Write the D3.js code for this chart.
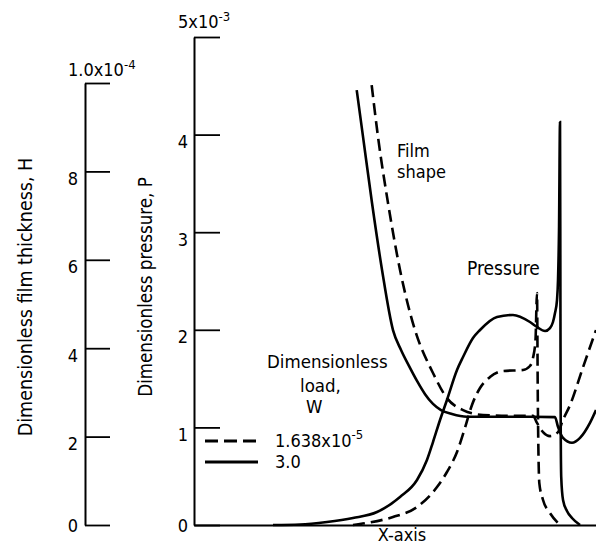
<!DOCTYPE html>
<html>
<head>
<meta charset="utf-8">
<script src="https://cdn.jsdelivr.net/npm/d3@7"></script>
<style>
  body { margin: 0; background: #fff; }
  svg text { font-family: 'DejaVu Sans Condensed', 'Liberation Sans Narrow', sans-serif; fill: #000; }
</style>
</head>
<body>
<div id="graf"></div>
<script>
// -- Datos (x en unidades arbitrarias del eje X; H en 1e-5, P en 1e-3)
loads = ['1.638x10', '3.0']
loadExp = ['-5', '']
hTicks = [0, 2, 4, 6, 8, 10]
pTicks = [0, 1, 2, 3, 4, 5]

// película, carga 1.638e-5 (discontinua)
filmW1 = [[1.768, 9.95], [1.831, 8.78], [1.930, 7.29], [2.050, 5.77], [2.199, 4.41], [2.378, 3.44],
          [2.517, 2.87], [2.677, 2.60], [2.876, 2.49], [3.144, 2.47], [3.373, 2.47], [3.413, 2.31],
          [3.473, 2.10], [3.542, 2.01], [3.622, 2.10], [3.672, 2.38], [3.741, 2.71], [3.871, 3.57], [4.0, 4.41]]
// película, carga 3.0 (continua)
filmW2 = [[1.619, 9.84], [1.682, 8.78], [1.771, 7.29], [1.871, 5.77], [1.980, 4.41], [2.060, 3.96],
          [2.139, 3.60], [2.219, 3.26], [2.299, 2.96], [2.378, 2.74], [2.458, 2.60], [2.567, 2.51],
          [2.716, 2.45], [3.045, 2.45], [3.343, 2.45], [3.592, 2.44], [3.622, 2.22], [3.672, 1.97],
          [3.761, 1.86], [3.841, 1.97], [3.940, 2.31], [4.0, 2.60]]
// presión, carga 1.638e-5 (discontinua)
pressW1 = [[1.582, 0], [1.751, 0.026], [1.980, 0.082], [2.219, 0.184], [2.418, 0.389], [2.517, 0.543],
           [2.617, 0.748], [2.696, 0.994], [2.766, 1.230], [2.846, 1.404], [2.945, 1.516], [3.075, 1.578],
           [3.274, 1.588], [3.343, 1.629], [3.373, 1.711], [3.398, 1.895], [3.413, 2.377], [3.421, 1.281],
           [3.436, 0.430], [3.473, 0.256], [3.542, 0.123], [3.642, 0]]
// presión, carga 3.0 (continua)
pressW2 = [[0.786, 0], [1.055, 0.005], [1.323, 0.031], [1.582, 0.072], [1.821, 0.133], [2.050, 0.287],
           [2.219, 0.461], [2.318, 0.666], [2.378, 0.850], [2.448, 1.076], [2.517, 1.281], [2.617, 1.588],
           [2.677, 1.721], [2.776, 1.916], [2.846, 1.998], [3.015, 2.131], [3.174, 2.152], [3.343, 2.080],
           [3.413, 2.029], [3.493, 1.988], [3.542, 2.018], [3.572, 2.080], [3.592, 2.172], [3.612, 2.305],
           [3.622, 2.510], [3.632, 3.023], [3.642, 4.129], [3.646, 2.305], [3.649, 0.973], [3.654, 0.492],
           [3.672, 0.256], [3.711, 0.143], [3.761, 0.072], [3.841, 0]]

// -- Canvas
ancho_total = 596
alto_total = 547
svg = d3.select('#graf').append('svg')
        .attr('width', ancho_total)
        .attr('height', alto_total)

// -- Escaladores
x = d3.scaleLinear().domain([0, 4]).range([194, 596])
yP = d3.scaleLinear().domain([0, 5]).range([525, 37])
yH = d3.scaleLinear().domain([0, 10]).range([525, 83])

// -- Eje de espesor de película
hAxis = d3.axisLeft(yH)
          .tickValues(hTicks)
          .tickSizeInner(-25)
          .tickSizeOuter(0)
          .tickPadding(7)
          .tickFormat(d => d === 10 ? '' : d)
gH = svg.append('g')
        .attr('transform', `translate(85,0)`)
        .call(hAxis)

// -- Eje de presión
pAxis = d3.axisLeft(yP)
          .tickValues(pTicks)
          .tickSizeInner(-26)
          .tickSizeOuter(0)
          .tickPadding(6)
          .tickFormat(d => d === 5 ? '' : d)
gP = svg.append('g')
        .attr('transform', `translate(${x(0)},0)`)
        .call(pAxis)

// -- Eje X
gX = svg.append('g')
        .attr('transform', `translate(0,${yP(0)})`)
        .call(d3.axisBottom(x).tickValues([]).tickSizeOuter(0))

svg.selectAll('g').attr('font-size', null).attr('font-family', null)
svg.selectAll('.domain').attr('stroke', '#000').attr('stroke-width', 2)
svg.selectAll('.tick line').attr('stroke', '#000').attr('stroke-width', 1.8)
svg.selectAll('.tick text')
    .style('font-size', '18px')
    .attr('dy', d => d === 0 ? '0.36em' : '0.72em')

// -- Rótulos superiores de los ejes
function sciLabel (xx, yy, base, exp) {
    t = svg.append('text')
            .attr('x', xx)
            .attr('y', yy)
            .style('font-size', '18px')
    t.append('tspan').text(base)
    t.append('tspan')
        .style('font-size', '13px')
        .attr('dy', -7)
        .text(exp)
    return t
}
sciLabel(178, 28, '5x10', '-3')
sciLabel(68, 76, '1.0x10', '-4')

// -- Títulos de ejes
svg.append('text')
    .attr('transform', 'translate(32,297) rotate(-90)')
    .attr('text-anchor', 'middle')
    .style('font-size', '19.5px')
    .text('Dimensionless film thickness, H')
svg.append('text')
    .attr('transform', 'translate(152,287) rotate(-90)')
    .attr('text-anchor', 'middle')
    .style('font-size', '18.6px')
    .text('Dimensionless pressure, P')
svg.append('text')
    .attr('x', 402)
    .attr('y', 541)
    .attr('text-anchor', 'middle')
    .style('font-size', '18px')
    .text('X-axis')

// -- Curvas
lineH = d3.line().x(d => x(d[0])).y(d => yH(d[1])).curve(d3.curveMonotoneX)
lineP = d3.line().x(d => x(d[0])).y(d => yP(d[1])).curve(d3.curveMonotoneX)

series = [
    {d: filmW1, line: lineH, dash: '12,6'},
    {d: filmW2, line: lineH, dash: null},
    {d: pressW1, line: lineP, dash: '12,6'},
    {d: pressW2, line: lineP, dash: null}
]
svg.append('g').selectAll('path')
    .data(series)
    .enter()
    .append('path')
    .attr('d', s => s.line(s.d))
    .attr('fill', 'none')
    .attr('stroke', '#000')
    .attr('stroke-width', 2.6)
    .attr('stroke-dasharray', s => s.dash)

// -- Rótulos de curvas
svg.append('text').attr('x', 397).attr('y', 157).style('font-size', '18px').text('Film')
svg.append('text').attr('x', 397).attr('y', 178).style('font-size', '18px').text('shape')
svg.append('text').attr('x', 467).attr('y', 275).style('font-size', '19px').text('Pressure')

// -- Leyenda
svg.append('text').attr('x', 267).attr('y', 368).style('font-size', '18.5px').text('Dimensionless')
svg.append('text').attr('x', 300).attr('y', 392).style('font-size', '18.5px').text('load,')
svg.append('text').attr('x', 306).attr('y', 413).style('font-size', '18.5px').text('W')

legY = [441, 462]
legDash = ['13,6', null]
leyenda = svg.append('g')
loads.forEach((l, i) => {
    leyenda.append('line')
        .attr('x1', 205).attr('x2', 258)
        .attr('y1', legY[i]).attr('y2', legY[i])
        .attr('stroke', '#000')
        .attr('stroke-width', 3)
        .attr('stroke-dasharray', legDash[i])
    t = leyenda.append('text')
        .attr('x', 275)
        .attr('y', legY[i] + 6)
        .style('font-size', '18px')
    t.append('tspan').text(l)
    if (loadExp[i]) {
        t.append('tspan').style('font-size', '13px').attr('dy', -8).text(loadExp[i])
    }
})
</script>
</body>
</html>
